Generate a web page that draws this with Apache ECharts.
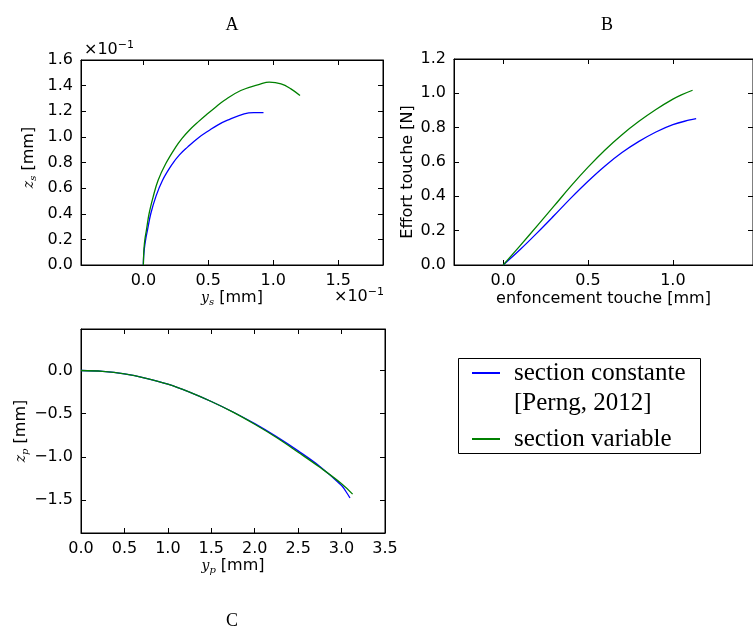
<!DOCTYPE html>
<html><head><meta charset="utf-8">
<script src="https://cdn.jsdelivr.net/npm/echarts@6/dist/echarts.min.js"></script>
<style>html,body{margin:0;padding:0;background:#fff}#c{width:753px;height:632px}</style>
</head><body><div id="c"></div>
<script>
// ---- data ----
const seriesNames = ['section constante\n[Perng, 2012]', 'section variable'];
const seriesColors = ['#0000ff', '#008000'];
// Panel A (values in units of 1e-1 mm)
const aConstX = [0, 0.002, 0.008, 0.018, 0.031, 0.057, 0.095, 0.147, 0.224, 0.278, 0.34, 0.42, 0.506, 0.575, 0.648, 0.776, 0.85, 0.925];
const aConstY = [0, 0.06, 0.13, 0.2, 0.268, 0.4, 0.53, 0.66, 0.79, 0.86, 0.92, 0.99, 1.05, 1.094, 1.13, 1.18, 1.19, 1.19];
const aVarX = [0, 0.002, 0.005, 0.012, 0.023, 0.044, 0.075, 0.113, 0.172, 0.249, 0.298, 0.352, 0.42, 0.494, 0.556, 0.622, 0.75, 0.905, 0.969, 1.06, 1.136, 1.206];
const aVarY = [0, 0.07, 0.13, 0.2, 0.268, 0.4, 0.53, 0.66, 0.79, 0.92, 0.988, 1.05, 1.115, 1.18, 1.232, 1.284, 1.362, 1.414, 1.427, 1.414, 1.375, 1.323];
// Panel B
const bConstX = [0, 0.1, 0.2, 0.3, 0.4, 0.5, 0.6, 0.7, 0.8, 0.9, 1.0, 1.1, 1.137];
const bConstY = [0, 0.09, 0.187, 0.288, 0.391, 0.488, 0.577, 0.655, 0.72, 0.775, 0.818, 0.845, 0.853];
const bVarX = [0, 0.1, 0.2, 0.3, 0.4, 0.5, 0.6, 0.7, 0.8, 0.9, 1.0, 1.05, 1.116];
const bVarY = [0, 0.113, 0.228, 0.344, 0.461, 0.570, 0.670, 0.759, 0.837, 0.906, 0.966, 0.991, 1.018];
// Panel C
const cConstX = [0, 0.25, 0.5, 0.75, 1.0, 1.25, 1.5, 1.75, 2.0, 2.25, 2.5, 2.75, 3.0, 3.05, 3.097];
const cConstY = [0, -0.01, -0.039, -0.09, -0.158, -0.25, -0.359, -0.48, -0.615, -0.765, -0.93, -1.11, -1.33, -1.40, -1.475];
const cVarX = [0, 0.25, 0.5, 0.75, 1.0, 1.25, 1.5, 1.75, 2.0, 2.25, 2.5, 2.75, 3.0, 3.127];
const cVarY = [0, -0.01, -0.039, -0.09, -0.158, -0.25, -0.359, -0.482, -0.622, -0.775, -0.945, -1.12, -1.31, -1.43];
// tick labels
const aXTicks = [0, 0.5, 1.0, 1.5];
const aYTicks = [0, 0.2, 0.4, 0.6, 0.8, 1.0, 1.2, 1.4, 1.6];
const bXTicks = [0, 0.5, 1.0, 1.5];
const bYTicks = [0, 0.2, 0.4, 0.6, 0.8, 1.0, 1.2];
const cXTicks = [0, 0.5, 1.0, 1.5, 2.0, 2.5, 3.0, 3.5];
const cYTicks = [-1.5, -1.0, -0.5, 0];
const panelTitles = ['A', 'B', 'C'];

// ---- helpers ----
const zip = (xs, ys) => xs.map((x, i) => [x, ys[i]]);
const fmt = v => (v < 0 ? '\u2212' : '') + Math.abs(v).toFixed(1);
const tickFont = { fontFamily: 'DejaVu Sans', fontSize: 16, color: '#000' };
const mathRich = {
  m: { fontFamily: 'DejaVu Serif', fontStyle: 'italic', fontSize: 14, color: '#000', verticalAlign: 'middle', lineHeight: 18 },
  s: { fontFamily: 'DejaVu Serif', fontStyle: 'italic', fontSize: 10, color: '#000', verticalAlign: 'bottom', lineHeight: 18 },
  t: { fontFamily: 'DejaVu Sans', fontSize: 16, color: '#000', verticalAlign: 'middle', lineHeight: 18 }
};

function axisPair(dim, grid, min, max, ticks, name, nameGap, namePad) {
  const base = {
    type: 'value', gridIndex: grid, min: min, max: max, scale: true,
    splitLine: { show: false },
    axisLine: { show: true, onZero: false, lineStyle: { color: '#000', width: 1 } },
    axisTick: { show: true, inside: true, length: 5, customValues: ticks, lineStyle: { color: '#000' } }
  };
  const main = Object.assign({}, base, {
    position: dim === 'x' ? 'bottom' : 'left',
    axisLabel: Object.assign({ show: true, customValues: ticks, formatter: fmt, margin: 8 }, tickFont),
    name: name, nameLocation: 'middle', nameGap: nameGap,
    nameTextStyle: { rich: mathRich, fontFamily: 'DejaVu Sans', fontSize: 16, color: '#000', padding: namePad || 0 }
  });
  const sec = Object.assign({}, base, {
    position: dim === 'x' ? 'top' : 'right',
    axisLabel: { show: false, customValues: ticks }
  });
  return [main, sec];
}

const grids = [
  { left: 81, top: 60, width: 302, height: 205, show: true, borderColor: '#000', borderWidth: 1 },
  { left: 454, top: 59, width: 302, height: 206, show: true, borderColor: '#000', borderWidth: 1 },
  { left: 81, top: 329, width: 304, height: 204, show: true, borderColor: '#000', borderWidth: 1 }
];

const ax = [
  axisPair('x', 0, -0.48, 1.845, aXTicks, '{m|y}{s|s}{t| [mm]}', 24),
  axisPair('x', 1, -0.29, 1.472, bXTicks, 'enfoncement touche [mm]', 26),
  axisPair('x', 2, 0, 3.5, cXTicks, '{m|y}{s|p}{t| [mm]}', 24)
];
const ay = [
  axisPair('y', 0, 0, 1.6, aYTicks, '{m|z}{s|s}{t| [mm]}', 43, [0, 0, 0, 10]),
  axisPair('y', 1, 0, 1.2, bYTicks, 'Effort touche [N]', 38, [0, 20, 0, 0]),
  axisPair('y', 2, -1.88, 0.48, cYTicks, '{m|z}{s|p}{t| [mm]}', 44)
];
const xAxes = [].concat(...ax);
const yAxes = [].concat(...ay);

function line(name, color, xi, yi, data, smooth) {
  return {
    type: 'line', name: name, xAxisIndex: xi, yAxisIndex: yi, data: data,
    symbol: 'none', smooth: smooth, lineStyle: { color: color, width: 1.3 }, itemStyle: { color: color },
    clip: true, animation: false
  };
}
const series = [
  line(seriesNames[0], seriesColors[0], 0, 0, zip(aConstX, aConstY), 0.4),
  line(seriesNames[1], seriesColors[1], 0, 0, zip(aVarX, aVarY), 0.4),
  line(seriesNames[0], seriesColors[0], 2, 2, zip(bConstX, bConstY), 0.4),
  line(seriesNames[1], seriesColors[1], 2, 2, zip(bVarX, bVarY), 0.4),
  line(seriesNames[0], seriesColors[0], 4, 4, zip(cConstX, cConstY), 0.4),
  line(seriesNames[1], seriesColors[1], 4, 4, zip(cVarX, cVarY), 0.4)
];

const legendText = { fontFamily: 'Liberation Serif', fontSize: 25, color: '#000', lineHeight: 30, padding: [0, 0, 0, 9] };
const legends = [
  { data: [seriesNames[0]], formatter: n => '\n' + n, textStyle: legendText,
    left: 471, top: 328, padding: 0, itemWidth: 28, itemHeight: 14, selectedMode: false,
    itemStyle: { opacity: 0 } },
  { data: [seriesNames[1]], textStyle: legendText,
    left: 471, top: 424, padding: 0, itemWidth: 28, itemHeight: 14, selectedMode: false,
    itemStyle: { opacity: 0 } }
];

const offsetRich = { e: { fontFamily: 'DejaVu Sans', fontSize: 11, color: '#000', verticalAlign: 'top', lineHeight: 18 },
                     b: { fontFamily: 'DejaVu Sans', fontSize: 16, color: '#000', verticalAlign: 'bottom', lineHeight: 18 } };
const titleFont = '18px "Liberation Serif"';
const graphic = [
  { type: 'text', x: 232, y: 25, style: { text: panelTitles[0], font: titleFont, fill: '#000', align: 'center', verticalAlign: 'middle' } },
  { type: 'text', x: 607, y: 25, style: { text: panelTitles[1], font: titleFont, fill: '#000', align: 'center', verticalAlign: 'middle' } },
  { type: 'text', x: 232, y: 621, style: { text: panelTitles[2], font: titleFont, fill: '#000', align: 'center', verticalAlign: 'middle' } },
  { type: 'text', x: 84, y: 49, style: { text: '{b|\u00d710}{e|\u22121}', rich: offsetRich, align: 'left', verticalAlign: 'middle' } },
  { type: 'text', x: 334, y: 296, style: { text: '{b|\u00d710}{e|\u22121}', rich: offsetRich, align: 'left', verticalAlign: 'middle' } },
  { type: 'rect', shape: { x: 458.5, y: 358.5, width: 242, height: 95 }, style: { fill: 'none', stroke: '#000', lineWidth: 1 } }
];

const chart = echarts.init(document.getElementById('c'), null, { renderer: 'canvas' });
chart.setOption({
  animation: false,
  backgroundColor: '#fff',
  grid: grids,
  xAxis: xAxes,
  yAxis: yAxes,
  series: series,
  legend: legends,
  graphic: graphic
});
</script></body></html>
